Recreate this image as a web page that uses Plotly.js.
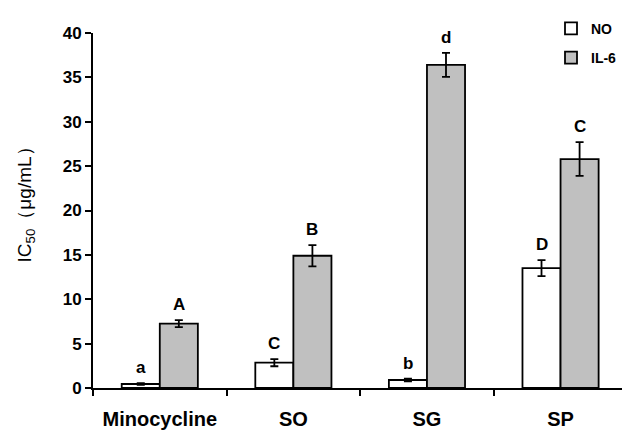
<!DOCTYPE html>
<html>
<head>
<meta charset="utf-8">
<script src="https://cdn.plot.ly/plotly-3.0.1.min.js"></script>
<style>html,body{margin:0;padding:0;background:#fff}#chart{width:622px;height:444px}</style>
</head>
<body>
<div id="chart"></div>
<script>
const categories = ["Minocycline", "SO", "SG", "SP"];
const noValues = [0.45, 2.85, 0.9, 13.5];
const noErrors = [0.1, 0.4, 0.15, 0.9];
const il6Values = [7.25, 14.9, 36.4, 25.8];
const il6Errors = [0.4, 1.2, 1.35, 1.9];
const noLetters = ["a", "C", "b", "D"];
const il6Letters = ["A", "B", "d", "C"];

const FONT = "Liberation Sans, Arial, sans-serif";
const bargap = 0.43;
const barW = (1 - bargap) / 2;

const errStyle = {type: "data", visible: true, color: "#000", thickness: 1.8, width: 4};

const traces = [
  {type: "bar", name: "NO", x: categories, y: noValues, legendgroup: "a",
   marker: {color: "#ffffff", line: {color: "#000", width: 1.8}},
   error_y: Object.assign({array: noErrors}, errStyle)},
  {type: "bar", name: "IL-6", x: categories, y: il6Values, legendgroup: "b",
   marker: {color: "#c0c0c0", line: {color: "#000", width: 1.8}},
   error_y: Object.assign({array: il6Errors}, errStyle)}
];

const annotations = [];
categories.forEach((c, i) => {
  annotations.push({x: i - barW / 2, y: noValues[i] + noErrors[i], xref: "x", yref: "y",
    text: noLetters[i], showarrow: false, yanchor: "bottom", yshift: 4,
    font: {family: FONT, size: 17, weight: "bold", color: "#000"}});
  annotations.push({x: i + barW / 2, y: il6Values[i] + il6Errors[i], xref: "x", yref: "y",
    text: il6Letters[i], showarrow: false, yanchor: "bottom", yshift: 4,
    font: {family: FONT, size: 17, weight: "bold", color: "#000"}});
});

const layout = {
  width: 622, height: 444,
  margin: {l: 93, r: 0, t: 33, b: 56},
  paper_bgcolor: "#fff", plot_bgcolor: "#fff",
  barmode: "group", bargap: bargap, bargroupgap: 0,
  showlegend: true,
  legend: {x: 1, y: 1.057, xanchor: "right", yanchor: "top",
    traceorder: "grouped", tracegroupgap: 8, itemwidth: 30,
    font: {family: FONT, size: 14, weight: "bold", color: "#000"},
    bgcolor: "rgba(0,0,0,0)"},
  xaxis: {type: "category", range: [-0.5, 3.46], tickson: "boundaries",
    showline: true, linecolor: "#000", linewidth: 2,
    ticks: "outside", ticklen: 6, tickwidth: 2, tickcolor: "#000",
    ticklabelstandoff: 12, automargin: false,
    tickfont: {family: FONT, size: 20, weight: "bold", color: "#000"},
    showgrid: false, zeroline: false},
  yaxis: {range: [0, 40], dtick: 5, showline: true, linecolor: "#000", linewidth: 2,
    ticks: "outside", ticklen: 6, tickwidth: 2, tickcolor: "#000",
    automargin: false,
    tickfont: {family: FONT, size: 17, weight: "bold", color: "#000"},
    showgrid: false, zeroline: false,
    title: {text: "&nbsp;&nbsp;&nbsp;&nbsp;IC<sub>50</sub>（μg/mL）", standoff: 26,
      font: {family: FONT, size: 19, color: "#000"}}},
  annotations: annotations
};

Plotly.newPlot("chart", traces, layout, {displayModeBar: false, staticPlot: true});
</script>
</body>
</html>
